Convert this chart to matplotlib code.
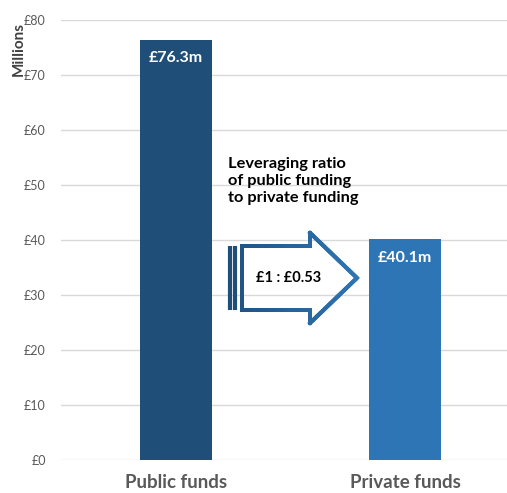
import numpy as np
import matplotlib
matplotlib.use("Agg")
import matplotlib.pyplot as plt
from matplotlib.collections import LineCollection
from matplotlib.colors import LinearSegmentedColormap

categories = ["Public funds", "Private funds"]
values = [76.3, 40.1]
value_labels = ["£76.3m", "£40.1m"]
bar_colors = ["#1F4E79", "#2E75B6"]
yticks = [0, 10, 20, 30, 40, 50, 60, 70, 80]
ratio_text = "£1 : £0.53"
note_text = "Leveraging ratio\nof public funding\nto private funding"

plt.rcParams["font.family"] = ["Lato", "DejaVu Sans"]

fig = plt.figure(figsize=(5.07, 4.93), dpi=100)
ax = fig.add_axes([61 / 507, 33 / 493, 446 / 507, 440 / 493])

x = np.arange(len(categories))
ax.bar(x, values, width=0.314, color=bar_colors, zorder=3)
ax.set_xlim(-0.502, 1.445)
ax.set_ylim(0, 80)
ax.set_yticks(yticks)
ax.set_yticklabels([f"£{v}" for v in yticks], color="#595959", fontsize=9)
ax.set_xticks(x)
ax.set_xticklabels(categories, fontsize=13.5, fontweight="bold", color="#595959")
ax.tick_params(axis="both", length=0)
ax.tick_params(axis="y", pad=11)
ax.tick_params(axis="x", pad=10)
ax.grid(axis="y", color="#D9D9D9", lw=1, zorder=0)
for s in ax.spines.values():
    s.set_visible(False)
ax.set_ylabel("Millions", fontsize=11, fontweight="bold", color="#404040")
ax.yaxis.set_label_coords(-0.078, 0.934)

for xi, v, lab in zip(x, values, value_labels):
    ax.text(xi, v - 3.3, lab, ha="center", va="center", color="white",
            fontsize=11.5, fontweight="bold", zorder=4)

# leverage note
ax.text(0.228, 50.7, note_text, ha="left", va="center", fontsize=11.8,
        fontweight="bold", color="black", linespacing=1.3, zorder=4)

# arrow outline with left-to-right gradient
cmap = LinearSegmentedColormap.from_list("arr", ["#1F4E79", "#2E75B6"])
pts = np.array([[0.288, 38.9], [0.585, 38.9], [0.585, 41.3], [0.790, 33.1],
                [0.585, 24.9], [0.585, 27.3], [0.288, 27.3], [0.288, 38.9]])
segs = []
cols = []
for a, b in zip(pts[:-1], pts[1:]):
    for t in np.linspace(0, 1, 40, endpoint=False):
        p0 = a + (b - a) * t
        p1 = a + (b - a) * (t + 1 / 40)
        segs.append([p0, p1])
        cols.append(cmap((p0[0] + p1[0]) / 2 / 0.79 * 1.3 - 0.3))
lc = LineCollection(segs, colors=cols, linewidths=2.8, zorder=5,
                    capstyle="projecting", joinstyle="miter")
ax.add_collection(lc)
for sx in [0.236, 0.259]:
    ax.plot([sx, sx], [27.3, 38.9], color="#1F4E79", lw=3.0,
            solid_capstyle="butt", zorder=5)
ax.text(0.49, 33.1, ratio_text, ha="center", va="center", fontsize=10.5,
        fontweight="bold", color="black", zorder=6)

fig.savefig("out.png", dpi=100)
